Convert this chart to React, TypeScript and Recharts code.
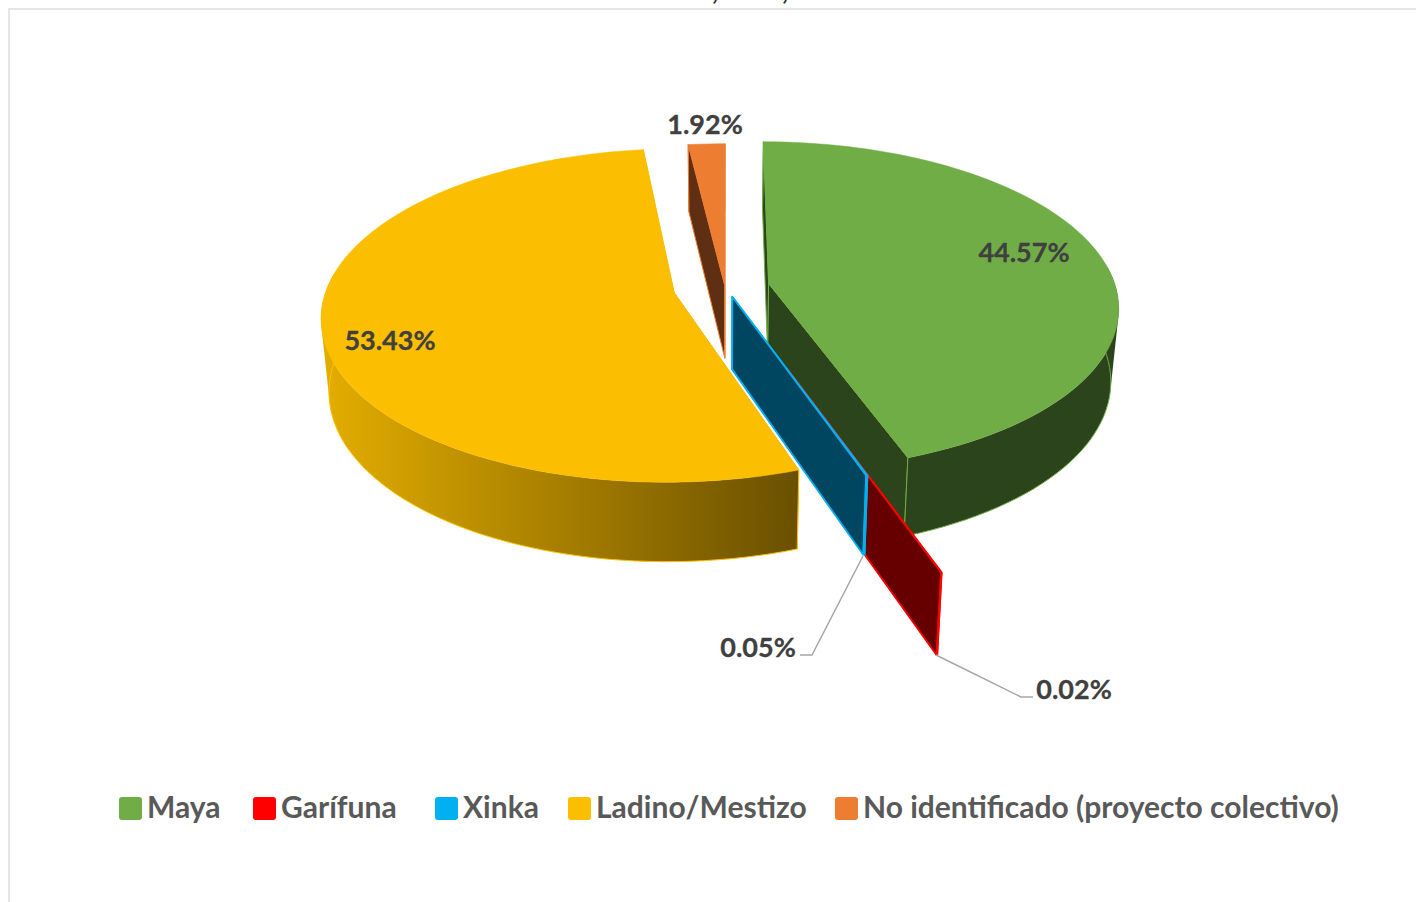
import { PieChart, Pie, Legend } from 'recharts';

// Participation by ethnic group (%)
const GROUPS = ['Maya', 'Garífuna', 'Xinka', 'Ladino/Mestizo', 'No identificado (proyecto colectivo)'];
const SHARES = [44.57, 0.02, 0.05, 53.43, 1.92];

const TOP_COLORS = ['#70AD47', '#FF0000', '#00B0F0', '#FBBE00', '#ED7D31'];
const WALL_COLORS = ['#2C441B', '#660000', '#004660', 'url(#ladinoWall)', '#5E2F13'];
const EDGE_COLORS = ['#70AD47', '#FF0000', '#00B0F0', '#FFC000', '#ED7D31'];

// how far each slice is pulled out of the pie, in pie radii
const EXPLODE = [0.128, 0.505, 0.063, 0.15, 0.006];

const LEGEND_X = [119, 253, 435, 568, 835];

const LABEL_POS = [
    { x: 1024, y: 251 },
    { x: 1074, y: 688 },
    { x: 758, y: 646 },
    { x: 390, y: 339 },
    { x: 705, y: 123 },
];
const LEADERS: Record<number, string> = {
    1: '936,655 1021,697 1033,697',
    2: '863,556 812,655 800,655',
};

const FONT = 'Lato, "Open Sans", sans-serif';

const chartData = GROUPS.map((name, i) => ({ name, value: SHARES[i], fill: TOP_COLORS[i] }));

// 3D look
const TILT = 0.467;
const PERSPECTIVE = 0.137;
const STEP = 2;
const toRad = (d: number) => (d * Math.PI) / 180;

type Pt = [number, number];

function projector(cx: number, cy: number, r: number) {
    return (u: number, v: number): Pt => {
        const w = 1 - PERSPECTIVE * v;
        return [cx + (r * u) / w, cy + (r * TILT * v) / w];
    };
}

// bottom rim of the disc, seen from the same camera
function lower([x, y]: Pt): Pt {
    return [720 + (x - 720) * 0.98, y + 67 + 0.037 * (y - 145)];
}

const toLine = (pts: Pt[]) => 'M' + pts.map((p) => `${p[0].toFixed(1)},${p[1].toFixed(1)}`).join('L');
const toPath = (pts: Pt[]) => toLine(pts) + 'Z';

// same winding for every quad, otherwise overlaps at the silhouette cancel out
function wound(pts: Pt[]) {
    const area = pts.reduce((sum, p, k) => {
        const q = pts[(k + 1) % pts.length];
        return sum + p[0] * q[1] - q[0] * p[1];
    }, 0);
    return area < 0 ? [...pts].reverse() : pts;
}

function Slice3D(props: any) {
    const { cx, cy, outerRadius, startAngle, endAngle } = props;
    const i = GROUPS.indexOf(props.name ?? props.payload?.name);
    const from = 90 - startAngle;
    const to = 90 - endAngle;
    const mid = toRad((from + to) / 2);
    const e = EXPLODE[i];
    const project = projector(cx, cy, outerRadius);
    const at = (deg: number, rad: number) =>
        project(
            rad * Math.sin(toRad(deg)) + e * Math.sin(mid),
            -rad * Math.cos(toRad(deg)) - e * Math.cos(mid),
        );

    const angles: number[] = [];
    for (let d = from; d < to; d += STEP) angles.push(d);
    angles.push(to);
    const arc = angles.map((d) => at(d, 1));
    const apex = at(from, 0);
    const first = arc[0];
    const last = arc[arc.length - 1];

    // only the part of the rim that faces the camera gets a curved wall
    const frontArc = angles.filter((d) => -Math.cos(toRad(d)) > -0.12).map((d) => at(d, 1));
    const curved = frontArc
        .slice(1)
        .map((p, k) => toPath(wound([frontArc[k], p, lower(p), lower(frontArc[k])])))
        .join('');

    const edgeWidth = i === 1 || i === 2 ? 1.8 : 1;
    const wall = {
        fill: WALL_COLORS[i],
        stroke: EDGE_COLORS[i],
        strokeWidth: edgeWidth,
        strokeLinejoin: 'round' as const,
    };

    return (
        <g>
            <path d={toPath([apex, first, lower(first), lower(apex)])} {...wall} />
            <path d={toPath([apex, last, lower(last), lower(apex)])} {...wall} />
            {curved && <path d={curved} fill={WALL_COLORS[i]} fillRule="nonzero" />}
            {frontArc.length > 1 && (
                <path d={toLine(frontArc.map(lower))} fill="none" stroke={EDGE_COLORS[i]} strokeWidth={1} />
            )}
            <path d={toLine([first, lower(first)]) + toLine([last, lower(last)])} fill="none" stroke={EDGE_COLORS[i]} strokeWidth={edgeWidth} />
            <path d={toPath([apex, ...arc])} fill={TOP_COLORS[i]} stroke={TOP_COLORS[i]} strokeWidth={0.5} />
        </g>
    );
}

function renderLabel(props: any) {
    const i = GROUPS.indexOf(props.name ?? props.payload?.name);
    return (
        <g key={i}>
            {LEADERS[i] && <polyline points={LEADERS[i]} fill="none" stroke="#A6A6A6" strokeWidth={1.5} />}
            <text
                x={LABEL_POS[i].x}
                y={LABEL_POS[i].y}
                textAnchor="middle"
                dominantBaseline="central"
                fontFamily={FONT}
                fontWeight={700}
                fontSize={27}
                fill="#404040"
                stroke="#404040"
                strokeWidth={0.3}
            >
                {SHARES[i].toFixed(2)}%
            </text>
        </g>
    );
}

function renderLegend() {
    return (
        <div style={{ position: 'relative', width: 1416, height: 50 }}>
            {GROUPS.map((name, i) => (
                <div key={name} style={{ position: 'absolute', left: LEGEND_X[i], top: 0, display: 'flex', alignItems: 'center', height: 50, whiteSpace: 'nowrap' }}>
                    <span style={{ width: 23, height: 23, borderRadius: 3, background: TOP_COLORS[i], marginRight: 5, position: 'relative', top: 2 }} />
                    <span style={{ fontFamily: FONT, fontWeight: 700, fontSize: 30, color: '#595959' }}>{name}</span>
                </div>
            ))}
        </div>
    );
}

export default function App() {
    return (
        <div style={{ position: 'absolute', left: 0, top: 0, width: 1416, height: 902, overflow: 'hidden', background: '#fff' }}>
            {/* chart frame and the clipped title of the original */}
            <div style={{ position: 'absolute', left: 8, top: 8, width: 1420, height: 910, borderLeft: '2px solid #E6E6E6', borderTop: '2px solid #E6E6E6' }} />
            {[712, 782].map((x) => (
                <span key={x} style={{ position: 'absolute', left: x, top: -26, fontFamily: FONT, fontWeight: 700, fontSize: 26, color: '#222' }}>,</span>
            ))}
            <PieChart width={1416} height={902} margin={{ top: 0, right: 0, bottom: 0, left: 0 }} style={{ position: 'absolute', left: 0, top: 0 }}>
                <defs>
                    <linearGradient id="ladinoWall" gradientUnits="userSpaceOnUse" x1={328} y1={0} x2={797} y2={0}>
                        <stop offset="0%" stopColor="#E2AC00" />
                        <stop offset="100%" stopColor="#6A5000" />
                    </linearGradient>
                </defs>
                <Pie
                    data={chartData}
                    dataKey="value"
                    nameKey="name"
                    cx={725}
                    cy={287}
                    innerRadius={0}
                    outerRadius={347}
                    startAngle={90}
                    endAngle={-270}
                    stroke="none"
                    shape={Slice3D}
                    activeShape={Slice3D}
                    inactiveShape={Slice3D}
                    label={renderLabel}
                    labelLine={false}
                    isAnimationActive={false}
                />
                <Legend content={renderLegend} wrapperStyle={{ left: 0, top: 781, width: 1416, height: 50 }} />
            </PieChart>
        </div>
    );
}
